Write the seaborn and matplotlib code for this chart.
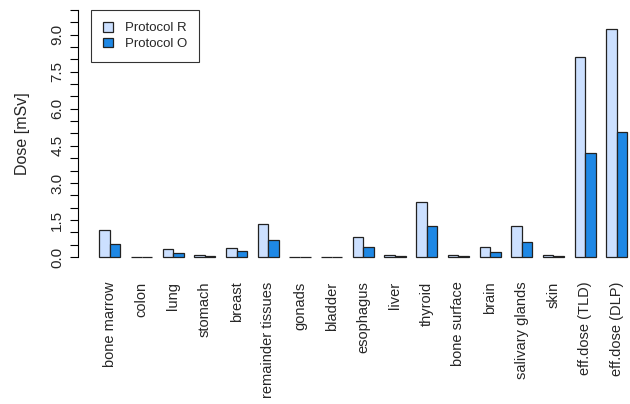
import pandas as pd
import seaborn as sns
import matplotlib.pyplot as plt
from matplotlib.ticker import MultipleLocator, FuncFormatter

organs = ["bone marrow", "colon", "lung", "stomach", "breast", "remainder tissues",
          "gonads", "bladder", "esophagus", "liver", "thyroid", "bone surface",
          "brain", "salivary glands", "skin", "eff.dose (TLD)", "eff.dose (DLP)"]
protocol_r = [1.09, 0.01, 0.31, 0.10, 0.36, 1.32, 0.01, 0.01, 0.81, 0.07, 2.23, 0.09,
              0.39, 1.26, 0.09, 8.11, 9.22]
protocol_o = [0.54, 0.01, 0.15, 0.05, 0.24, 0.69, 0.01, 0.01, 0.42, 0.03, 1.26, 0.04,
              0.19, 0.63, 0.04, 4.22, 5.07]
protocols = ["Protocol R", "Protocol O"]
colors = ["#CCE0FF", "#1E88E5"]

df = pd.DataFrame({
    "organ": organs * 2,
    "dose": protocol_r + protocol_o,
    "protocol": [protocols[0]] * len(organs) + [protocols[1]] * len(organs),
})

sns.set_style("white")
plt.rcParams["font.family"] = ["Liberation Sans", "DejaVu Sans"]

fig = plt.figure(figsize=(6.3, 4.04), dpi=100)
ax = fig.add_axes([78.2 / 630, 137 / 404, 570.3 / 630, 267 / 404])

sns.barplot(data=df, x="organ", y="dose", hue="protocol", palette=colors,
            width=2 / 3, gap=0, edgecolor="#222222", linewidth=0.9,
            saturation=1, ax=ax)

ax.set_xlim(-1, 17)
ax.set_ylim(-0.4, 10.4)

for s in ["top", "right", "bottom"]:
    ax.spines[s].set_visible(False)
ax.spines["left"].set_bounds(0, 10)
ax.spines["left"].set_color("black")
ax.spines["left"].set_linewidth(0.8)

ax.yaxis.set_major_locator(MultipleLocator(0.5))
ax.yaxis.set_major_formatter(FuncFormatter(
    lambda v, p: f"{v:.1f}" if round(v / 0.5) % 3 == 0 else ""))
ax.tick_params(axis="y", left=True, length=6, width=0.8, color="black",
               labelsize=11, pad=4)
for lab in ax.get_yticklabels():
    lab.set_rotation(90)
    lab.set_va("center")

ax.tick_params(axis="x", bottom=False, labelsize=10.5, pad=7)
ax.set_xticks(range(len(organs)))
ax.set_xticklabels(organs, rotation=90, ha="center", va="top")

ax.set_xlabel("")
ax.set_ylabel("Dose [mSv]", fontsize=11.5)
ax.yaxis.set_label_coords(-0.084, 0.5)

leg = ax.legend(loc="upper left", bbox_to_anchor=(0.0224, 0.9625),
                borderaxespad=0, frameon=True, fancybox=False,
                edgecolor="black", fontsize=9.5, handlelength=0.75,
                handleheight=0.75, handletextpad=0.9, borderpad=0.9,
                labelspacing=0.25)
leg.get_frame().set_linewidth(0.8)

fig.savefig("out.png", dpi=100)
